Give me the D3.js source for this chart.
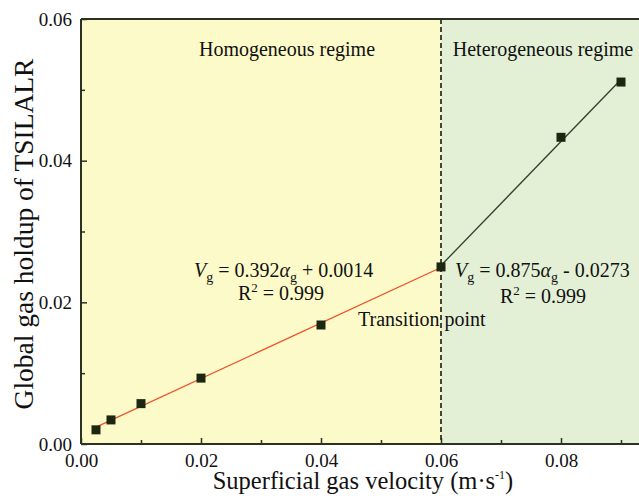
<!DOCTYPE html>
<html>
<head>
<meta charset="utf-8">
<script src="https://cdn.jsdelivr.net/npm/d3@7"></script>
<style>
  html, body { margin: 0; padding: 0; background: #ffffff; }
  svg { display: block; }
  svg text { font-family: "Liberation Serif", "Times New Roman", serif !important; fill: #111; }
</style>
</head>
<body>
<div id="chart"></div>
<script>
// Measured gas holdup at each superficial gas velocity
const velocities = [0.0025, 0.005, 0.01, 0.02, 0.04, 0.06, 0.08, 0.09];
const holdups    = [0.0020, 0.0034, 0.0057, 0.0093, 0.0168, 0.0250, 0.0433, 0.0511];

// Linear fits for the two flow regimes
const homoFit   = { slope: 0.392, intercept: 0.0014,  from: 0.0025, to: 0.06 };
const heteroFit = { slope: 0.875, intercept: -0.0273, from: 0.06,   to: 0.09 };
const transitionX = 0.06;

// Axis ticks
const xMajorTicks = [0.00, 0.02, 0.04, 0.06, 0.08];
const xMinorTicks = [0.01, 0.03, 0.05, 0.07, 0.09];
const yMajorTicks = [0.00, 0.02, 0.04, 0.06];
const yMinorTicks = [0.01, 0.03, 0.05];

const W = 639, H = 499;
const margin = { left: 81, top: 19, bottom: 55 };
const plotRight = 681;  // the frame runs past the right edge of the page

const svg = d3.select("#chart").append("svg")
  .attr("width", W).attr("height", H);

const x = d3.scaleLinear().domain([0, 0.10]).range([margin.left, plotRight]);
const y = d3.scaleLinear().domain([0, 0.06]).range([H - margin.bottom, margin.top]);

const axisColor = "#2b3320";
const serif = "'Liberation Serif', 'Times New Roman', serif";

// Regime backgrounds
svg.append("rect")
  .attr("x", x(0)).attr("y", y(0.06))
  .attr("width", x(transitionX) - x(0)).attr("height", y(0) - y(0.06))
  .attr("fill", "#fcfac9");
svg.append("rect")
  .attr("x", x(transitionX)).attr("y", y(0.06))
  .attr("width", x(0.10) - x(transitionX)).attr("height", y(0) - y(0.06))
  .attr("fill", "#e3f0d6");

// Transition line
svg.append("line")
  .attr("x1", x(transitionX)).attr("x2", x(transitionX))
  .attr("y1", y(0.06)).attr("y2", y(0))
  .attr("stroke", "#1a1a1a").attr("stroke-width", 1.6)
  .attr("stroke-dasharray", "5,3");

// Axes with inward ticks
const xAxis = d3.axisBottom(x).tickValues(xMajorTicks).tickFormat(d3.format(".2f"))
  .tickSizeInner(-6).tickSizeOuter(0).tickPadding(10);
const gx = svg.append("g").attr("transform", `translate(0,${y(0)})`).call(xAxis);
const xMinor = d3.axisBottom(x).tickValues(xMinorTicks).tickFormat("")
  .tickSizeInner(-4).tickSizeOuter(0);
const gxm = svg.append("g").attr("transform", `translate(0,${y(0)})`).call(xMinor);

const yAxis = d3.axisLeft(y).tickValues(yMajorTicks).tickFormat(d3.format(".2f"))
  .tickSizeInner(-6).tickSizeOuter(0).tickPadding(9);
const gy = svg.append("g").attr("transform", `translate(${x(0)},0)`).call(yAxis);
const yMinor = d3.axisLeft(y).tickValues(yMinorTicks).tickFormat("")
  .tickSizeInner(-4).tickSizeOuter(0);
const gym = svg.append("g").attr("transform", `translate(${x(0)},0)`).call(yMinor);

[gx, gxm, gy, gym].forEach(g => {
  g.attr("font-family", serif);
  g.select(".domain").remove();
  g.selectAll(".tick line").attr("stroke", axisColor).attr("stroke-width", 1.5);
  g.selectAll(".tick text")
    .style("font-family", serif)
    .attr("font-size", 19).attr("fill", "#111");
});
gx.selectAll(".tick text").attr("dy", "0.71em");

// Frame: left, bottom and top edges
svg.append("line").attr("x1", x(0)).attr("x2", x(0.10)).attr("y1", y(0)).attr("y2", y(0))
  .attr("stroke", axisColor).attr("stroke-width", 2);
svg.append("line").attr("x1", x(0)).attr("x2", x(0)).attr("y1", y(0.06)).attr("y2", y(0))
  .attr("stroke", axisColor).attr("stroke-width", 2);
svg.append("line").attr("x1", x(0)).attr("x2", x(0.10)).attr("y1", y(0.06)).attr("y2", y(0.06))
  .attr("stroke", axisColor).attr("stroke-width", 2);

// Fit lines
function fitLine(f, color) {
  svg.append("line")
    .attr("x1", x(f.from)).attr("y1", y(f.slope * f.from + f.intercept))
    .attr("x2", x(f.to)).attr("y2", y(f.slope * f.to + f.intercept))
    .attr("stroke", color).attr("stroke-width", 1.3);
}
fitLine(homoFit, "#f0502a");
fitLine(heteroFit, "#2e4228");

// Data markers
const size = 9;
svg.append("g").selectAll("rect")
  .data(velocities.map((v, i) => [v, holdups[i]]))
  .join("rect")
  .attr("x", d => x(d[0]) - size / 2)
  .attr("y", d => y(d[1]) - size / 2)
  .attr("width", size).attr("height", size)
  .attr("fill", "#1c2610");

// Regime labels
svg.append("text").attr("x", 287).attr("y", 56).attr("text-anchor", "middle")
  .attr("font-size", 20).text("Homogeneous regime");
svg.append("text").attr("x", 543).attr("y", 56).attr("text-anchor", "middle")
  .attr("font-size", 20).text("Heterogeneous regime");

// Fit equations
function equation(xPos, yPos, slope, sign, intercept, rx, ry) {
  const t = svg.append("text").attr("x", xPos).attr("y", yPos).attr("font-size", 20);
  t.append("tspan").attr("font-style", "italic").text("V");
  t.append("tspan").attr("font-size", 14).attr("dy", 5).text("g");
  t.append("tspan").attr("dy", -5).text(` = ${slope}`);
  t.append("tspan").attr("font-style", "italic").text("α");
  t.append("tspan").attr("font-size", 14).attr("dy", 5).text("g");
  t.append("tspan").attr("dy", -5).text(` ${sign} ${intercept}`);
  const r = svg.append("text").attr("x", rx).attr("y", ry).attr("font-size", 20);
  r.append("tspan").text("R");
  r.append("tspan").attr("font-size", 13).attr("dy", -8).text("2");
  r.append("tspan").attr("dy", 8).text(" = 0.999");
}
equation(194, 277, "0.392", "+", "0.0014", 238, 300);
equation(455, 277, "0.875", "-", "0.0273", 500, 303);

svg.append("text").attr("x", 358).attr("y", 326).attr("font-size", 20).text("Transition point");

// Axis titles
const xt = svg.append("text").attr("x", 363).attr("y", 489).attr("text-anchor", "middle")
  .attr("font-size", 24.5);
xt.append("tspan").text("Superficial gas velocity (m·s");
xt.append("tspan").attr("font-size", 12).attr("dy", -10).text("-1");
xt.append("tspan").attr("dy", 10).text(")");

svg.append("text")
  .attr("transform", `translate(33,${234}) rotate(-90)`)
  .attr("text-anchor", "middle").attr("font-size", 27.5)
  .text("Global gas holdup of TSILALR");
</script>
</body>
</html>
